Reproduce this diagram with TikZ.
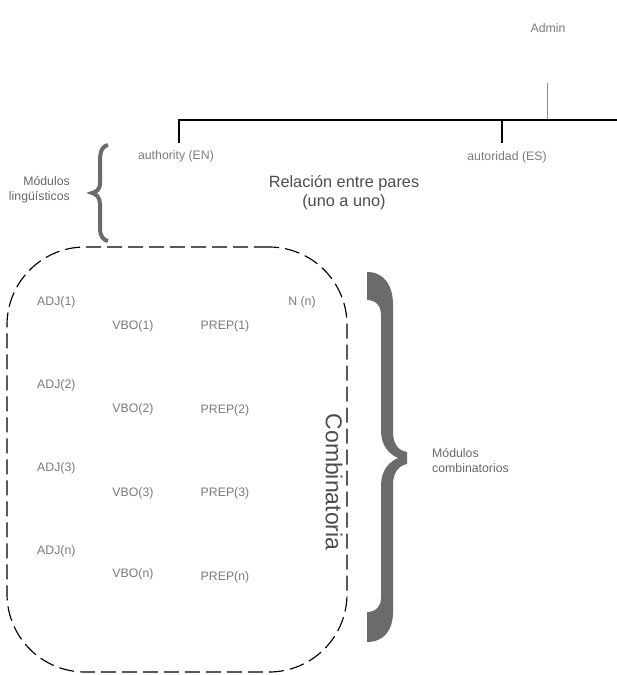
\documentclass[tikz,border=0pt]{standalone}
\usepackage{fontspec}
\setmainfont{Liberation Sans}
\usepackage{tikz}

\tikzset{
  lbl/.style={text=black!52, font=\fontsize{12.3}{14}\selectfont, inner sep=1pt},
  modtxt/.style={text=black!60, font=\fontsize{12.3}{15}\selectfont, inner sep=1pt},
  bracefill/.style={fill=black!58, draw=none},
  combbox/.style={draw=black, line width=1.15pt, dash pattern=on 15pt off 6pt, rounded corners=78pt},
}

\begin{document}
\begin{tikzpicture}[x=1pt, y=-1pt]
  \useasboundingbox (0,0) rectangle (617,675);

  % top of the tree
  \node[lbl] (admin) at (548,28) {Admin};
  \coordinate (stem) at (547,83);
  \coordinate (root) at (547,120);
  \coordinate (left) at (179,120);
  \coordinate (right) at (617,120);
  \coordinate (mid) at (502,120);
  \coordinate (enstub) at (179,143);
  \coordinate (esstub) at (502,143);
  \node[lbl] (en) at (176,156) {authority (EN)};
  \node[lbl] (es) at (507,157) {autoridad (ES)};
  \draw[black!45, line width=0.8pt] (stem) -- (root);
  \draw[line width=1.1pt] (right) -- (left) -- (enstub);
  \draw[line width=1.1pt] (mid) -- (esstub);

  \node[align=center, text=black!70, font=\fontsize{16.3}{19}\selectfont] (rel) at (344,193) {Relación entre pares\\(uno a uno)};

  % small brace on the left
  \node[modtxt, align=right, anchor=east] (ling) at (71,190) {Módulos\\lingüísticos};
  \draw[black!58, line width=4pt] (108,145) .. controls (100,147) and (100,155) .. (100,165) -- (100,183)
     .. controls (100,190) and (96,192) .. (92,193) .. controls (96,194) and (100,197) .. (100,204)
     -- (100,228) .. controls (100,236) and (103,240) .. (108,241);

  % dashed box with the combinations
  \node[combbox, minimum width=340pt, minimum height=425pt] (comb) at (177,459.5) {};
  \node[rotate=-90, text=black!70, font=\fontsize{23}{26}\selectfont, inner sep=0pt] (combtxt) at (334,482) {Combinatoria};

  \node[lbl, anchor=west] (adj1) at (36,302) {ADJ(1)};
  \node[lbl] (vbo1) at (133,326) {VBO(1)};
  \node[lbl] (prep1) at (225,326) {PREP(1)};
  \node[lbl] (nn) at (302,302) {N (n)};

  \node[lbl, anchor=west] (adj2) at (36,385) {ADJ(2)};
  \node[lbl] (vbo2) at (133,409) {VBO(2)};
  \node[lbl] (prep2) at (225,410) {PREP(2)};

  \node[lbl, anchor=west] (adj3) at (36,468) {ADJ(3)};
  \node[lbl] (vbo3) at (133,493) {VBO(3)};
  \node[lbl] (prep3) at (225,493) {PREP(3)};

  \node[lbl, anchor=west] (adjn) at (36,551) {ADJ(n)};
  \node[lbl] (vbon) at (133,574) {VBO(n)};
  \node[lbl] (prepn) at (225,577) {PREP(n)};

  % big brace on the right
  \fill[bracefill] (367,272) .. controls (384,272) and (393,285) .. (393,305) -- (393,432)
     .. controls (393,447) and (401,451) .. (407,452) -- (407,464)
     .. controls (401,465) and (393,470) .. (393,485) -- (393,612)
     .. controls (393,630) and (384,642) .. (367,642) -- (367,612)
     .. controls (376,612) and (381,606) .. (381,598) -- (381,486)
     .. controls (381,470) and (389,462) .. (398,458) .. controls (389,454) and (381,446) .. (381,430)
     -- (381,315) .. controls (381,306) and (376,300) .. (367,300) -- cycle;
  \node[modtxt, align=left, anchor=west] (comb-lbl) at (431,461) {Módulos\\combinatorios};
\end{tikzpicture}
\end{document}
